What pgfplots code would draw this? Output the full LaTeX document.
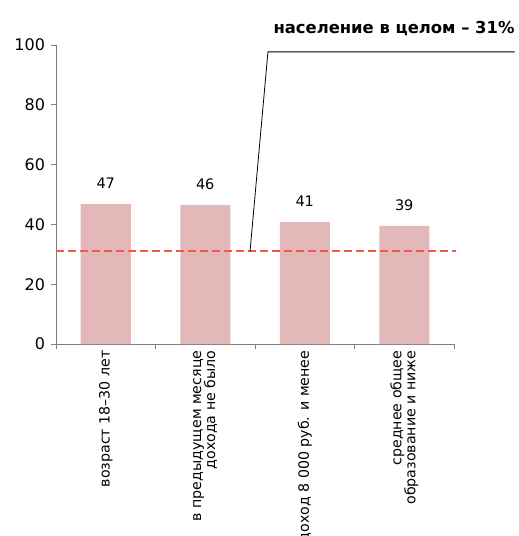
\documentclass[border=0pt]{standalone}
\usepackage{pgfplots}
\pgfplotsset{compat=1.18}
\usepackage{fontspec}
\setmainfont{DejaVu Sans}
\definecolor{barc}{HTML}{E4B8B8}
\definecolor{dashc}{HTML}{F0584A}
\definecolor{axc}{HTML}{7F7F7F}
\begin{document}
\begin{tikzpicture}
\useasboundingbox (0,0) rectangle (519pt,536pt);
\begin{axis}[
  at={(56pt,192pt)}, anchor=south west,
  scale only axis, width=398pt, height=299pt,
  xmin=-0.5, xmax=3.5, ymin=0, ymax=100,
  clip=false,
  axis x line*=bottom, axis y line*=left,
  axis line style={axc, line width=0.8pt},
  ytick={0,20,...,100},
  xtick={-0.5,0.5,1.5,2.5,3.5}, xticklabels={},
  tick align=outside, major tick length=5pt,
  tick style={axc, line width=0.8pt},
  /pgf/number format/assume math mode=true,
  yticklabel style={font=\fontsize{16}{19}\selectfont, text=black, xshift=-2.5pt},
  extra x ticks={0,1,2,3},
  extra x tick labels={{возраст 18--30 лет},{в предыдущем месяце\\дохода не было},{доход 8 000 руб. и менее},{среднее общее\\образование и ниже}},
  extra x tick style={major tick length=0pt, tick style={draw=none},
    xticklabel shift=3pt,
    xticklabel style={rotate=90, anchor=east, align=right, font=\fontsize{14.2}{14}\selectfont, text=black}},
]
\addplot[ybar, bar width=50pt, fill=barc, draw=none,
  nodes near coords, point meta=explicit symbolic,
  every node near coord/.append style={font=\fontsize{14.5}{17}\selectfont, text=black, anchor=center, yshift=21pt}]
  table[meta=label] {
x y label
0 46.8 47
1 46.5 46
2 40.8 41
3 39.5 39
};
\addplot[dashc, line width=1.8pt, dash pattern=on 8pt off 4pt, forget plot] coordinates {(-0.5,31) (3.52,31)};
\draw[black, line width=0.8pt] (axis cs:1.45,31) -- (axis cs:1.63,97.7) -- (axis cs:4.11,97.7);
\node[anchor=base east, font=\bfseries\fontsize{16.4}{20}\selectfont, inner sep=0pt] at (axis cs:4.11,104) {население в целом -- 31\%};
\end{axis}
\end{tikzpicture}
\end{document}
